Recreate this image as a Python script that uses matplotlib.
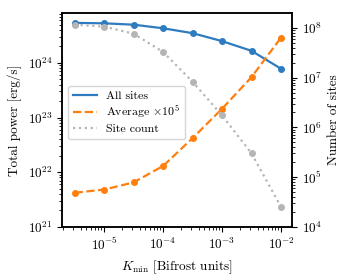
import matplotlib
matplotlib.use("Agg")
import matplotlib.pyplot as plt
from matplotlib.lines import Line2D

plt.rcParams['font.family'] = 'serif'
plt.rcParams['font.serif'] = ['cmr10', 'DejaVu Serif']
plt.rcParams['mathtext.fontset'] = 'cm'
plt.rcParams['axes.formatter.use_mathtext'] = True
plt.rcParams['axes.unicode_minus'] = False
plt.rcParams['font.size'] = 9.5
plt.rcParams['axes.linewidth'] = 1.1

# K_min thresholds [Bifrost units]
kmin = [3.16e-6, 1e-5, 3.16e-5, 1e-4, 3.16e-4, 1e-3, 3.16e-3, 1e-2]
# total power of all sites [erg/s]
total_power = [5.4e24, 5.3e24, 5.0e24, 4.3e24, 3.5e24, 2.5e24, 1.66e24, 7.8e23]
# average power per site, times 1e5
avg_power = [4.2e21, 4.8e21, 6.5e21, 1.3e22, 4.2e22, 1.45e23, 5.5e23, 2.9e24]
# number of sites
site_count = [1.17e8, 1.07e8, 7.7e7, 3.3e7, 8.3e6, 1.74e6, 3.0e5, 2.5e4]

blue, orange, grey = '#2f7bbf', '#ff7f0e', '#b5b5b5'

fig, ax = plt.subplots(figsize=(3.5, 2.8), dpi=100)
ax2 = ax.twinx()

ax2.plot(kmin, site_count, ':', color=grey, marker='o', ms=4, lw=1.6)
ax.plot(kmin, total_power, '-', color=blue, marker='o', ms=4, lw=1.6)
ax.plot(kmin, avg_power, '--', color=orange, marker='o', ms=4, lw=1.6)

ax.set_xscale('log')
ax.set_yscale('log')
ax2.set_yscale('log')
ax.set_xlim(10**-5.71, 10**-1.81)
ax.set_ylim(1e21, 10**24.91)
ax2.set_ylim(1e4, 10**8.3)

ax.set_xlabel(r'$K_{\rm min}$ [Bifrost units]')
ax.set_ylabel('Total power [erg/s]')
ax2.set_ylabel('Number of sites')

# legend shows line styles only
handles = [Line2D([], [], color=blue, ls='-', lw=1.6),
           Line2D([], [], color=orange, ls='--', lw=1.6),
           Line2D([], [], color=grey, ls=':', lw=1.6)]
labels = ['All sites', r'Average $\times10^5$', 'Site count']
ax.legend(handles, labels, loc='center left', bbox_to_anchor=(0.0, 0.535),
          fontsize=8.6, labelspacing=0.25)

plt.subplots_adjust(left=0.178, right=0.835, top=0.953, bottom=0.19)
plt.savefig('out.png', dpi=100)
